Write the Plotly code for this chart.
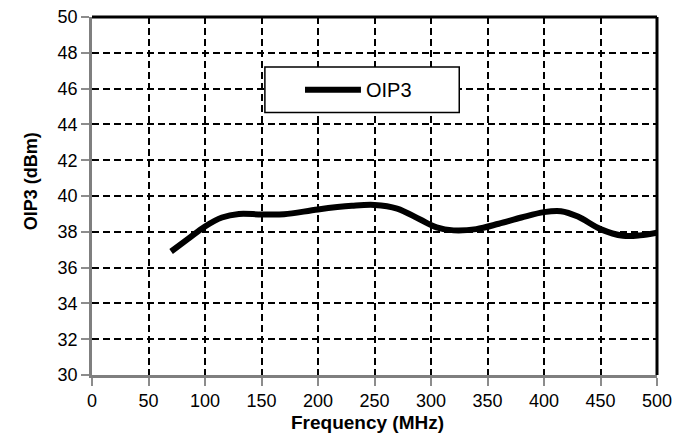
import plotly.graph_objects as go

freq_mhz = [70, 85, 100, 115, 130, 150, 170, 200, 230, 250, 270, 290, 305, 320, 340, 360, 380, 400, 415, 430, 450, 470, 485, 500]
oip3_dbm = [36.9, 37.6, 38.3, 38.8, 39.0, 38.97, 38.98, 39.25, 39.45, 39.5, 39.3, 38.7, 38.25, 38.08, 38.15, 38.45, 38.8, 39.1, 39.15, 38.85, 38.15, 37.78, 37.8, 37.95]
x_ticks = [0, 50, 100, 150, 200, 250, 300, 350, 400, 450, 500]
y_ticks = [30, 32, 34, 36, 38, 40, 42, 44, 46, 48, 50]
series_name = "OIP3"
x_title = "Frequency (MHz)"
y_title = "OIP3 (dBm)"

FONT = "Liberation Sans, Arial, sans-serif"

fig = go.Figure()
fig.add_trace(go.Scatter(
    x=freq_mhz, y=oip3_dbm, mode="lines", name=series_name,
    line=dict(color="black", width=6, shape="spline", smoothing=1.0),
    showlegend=False,
))

axis_common = dict(
    showgrid=True, gridcolor="black", gridwidth=1.6, griddash="7px,4px",
    showline=True, linecolor="#7f7f7f", linewidth=2.5,
    ticks="outside", ticklen=8, tickcolor="#8c8c8c", tickwidth=2,
    tickfont=dict(family=FONT, size=18, color="black"),
    zeroline=False, automargin=False, ticklabeloverflow="allow",
)

fig.update_xaxes(range=[0, 500], tickvals=x_ticks, ticktext=[str(v) for v in x_ticks], **axis_common)
fig.update_yaxes(range=[30, 50], tickvals=y_ticks, ticktext=[str(v) for v in y_ticks], **axis_common)

# axis titles
fig.add_annotation(xref="paper", yref="paper", x=0.488, y=-0.134, text="<b>" + x_title + "</b>",
                   showarrow=False, xanchor="center", yanchor="middle",
                   font=dict(family=FONT, size=19, color="black"))
fig.add_annotation(xref="paper", yref="paper", x=-0.108, y=0.541, text="<b>" + y_title + "</b>",
                   showarrow=False, xanchor="center", yanchor="middle", textangle=-90,
                   font=dict(family=FONT, size=18, color="black"))

# top and right frame lines (black)
fig.add_shape(type="line", xref="paper", yref="paper", x0=0, x1=1, y0=1, y1=1,
              line=dict(color="black", width=3))
fig.add_shape(type="line", xref="paper", yref="paper", x0=1, x1=1, y0=0, y1=1,
              line=dict(color="black", width=3))

# legend box
fig.add_shape(type="rect", xref="paper", yref="paper", x0=0.306, x1=0.65, y0=0.733, y1=0.86,
              line=dict(color="black", width=1.5), fillcolor="white", layer="above")
fig.add_shape(type="line", xref="paper", yref="paper", x0=0.377, x1=0.476, y0=0.797, y1=0.797,
              line=dict(color="black", width=6), layer="above")
fig.add_annotation(xref="paper", yref="paper", x=0.481, y=0.797, text=series_name,
                   showarrow=False, xanchor="left", yanchor="middle",
                   font=dict(family=FONT, size=20, color="black"))

# page body has a default 8px margin, so the figure is 8px smaller and offset
fig.update_layout(
    width=683, height=430,
    margin=dict(l=84, r=34, t=9, b=63, autoexpand=False),
    plot_bgcolor="white", paper_bgcolor="white",
    font=dict(family=FONT, color="black"),
)

fig.write_html("out.html")
